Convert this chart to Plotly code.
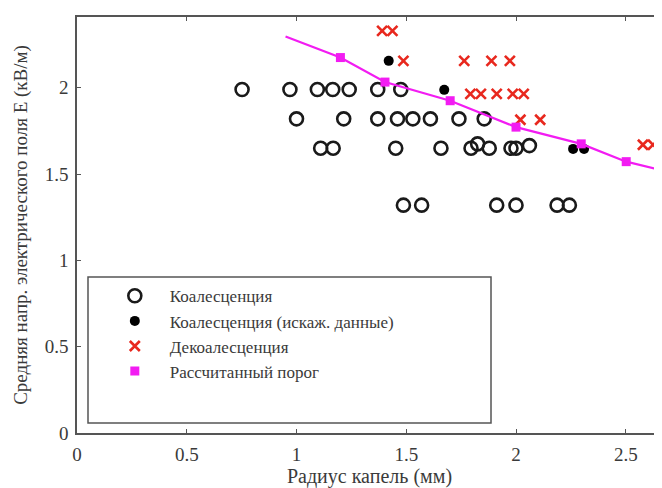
import plotly.graph_objects as go

# --- data ---
coal_x = [0.752, 0.97, 1.095, 1.165, 1.24, 1.37, 1.475,
          1.0, 1.215, 1.37, 1.46, 1.53, 1.61, 1.74, 1.855,
          1.11, 1.167, 1.452, 1.658, 1.795, 1.825, 1.878, 1.977, 2.0, 2.061,
          1.487, 1.57, 1.912, 2.0, 2.187, 2.243]
coal_y = [1.99, 1.99, 1.99, 1.99, 1.99, 1.99, 1.99,
          1.82, 1.82, 1.82, 1.82, 1.82, 1.82, 1.82, 1.82,
          1.65, 1.65, 1.65, 1.65, 1.65, 1.675, 1.65, 1.65, 1.65, 1.665,
          1.32, 1.32, 1.32, 1.32, 1.32, 1.32]

distorted_x = [1.42, 1.673, 2.26, 2.31]
distorted_y = [2.156, 1.988, 1.646, 1.646]

decoal_x = [1.39, 1.437,
            1.487, 1.764, 1.888, 1.972,
            1.792, 1.84, 1.912, 1.985, 2.035,
            2.02, 2.11,
            2.578, 2.624]
decoal_y = [2.33, 2.33,
            2.156, 2.156, 2.156, 2.156,
            1.965, 1.965, 1.965, 1.965, 1.965,
            1.815, 1.815,
            1.67, 1.67]

threshold_x = [1.2, 1.403, 1.7, 2.0, 2.297, 2.502]
threshold_y = [2.175, 2.033, 1.925, 1.772, 1.675, 1.572]

threshold_line_x = [0.95, 1.2, 1.403, 1.7, 2.0, 2.297, 2.502, 2.67]
threshold_line_y = [2.297, 2.175, 2.033, 1.925, 1.772, 1.675, 1.572, 1.52]

x_ticks = [0, 0.5, 1, 1.5, 2, 2.5]
x_tick_labels = ["0", "0.5", "1", "1.5", "2", "2.5"]
y_ticks = [0, 0.5, 1, 1.5, 2]
y_tick_labels = ["0", "0.5", "1", "1.5", "2"]

names = ["Коалесценция", "Коалесценция (искаж. данные)",
         "Декоалесценция", "Рассчитанный порог"]

FONT = "Liberation Serif, Times New Roman, DejaVu Serif, serif"
TXT = "#3a3a3a"
MAGENTA = "#f21cf2"

fig = go.Figure()
fig.add_trace(go.Scatter(
    x=coal_x, y=coal_y, mode="markers", name=names[0],
    marker=dict(symbol="circle-open", size=13, color="#1a1a1a",
                line=dict(width=2.6, color="#1a1a1a"))))
fig.add_trace(go.Scatter(
    x=distorted_x, y=distorted_y, mode="markers", name=names[1],
    marker=dict(symbol="circle", size=10, color="#000000")))
fig.add_trace(go.Scatter(
    x=decoal_x, y=decoal_y, mode="markers", name=names[2],
    marker=dict(symbol="x-thin-open", size=10, color="#e8281e",
                line=dict(width=2.6, color="#e8281e"))))
fig.add_trace(go.Scatter(
    x=threshold_line_x, y=threshold_line_y, mode="lines", showlegend=False,
    line=dict(color=MAGENTA, width=2.2), hoverinfo="skip"))
fig.add_trace(go.Scatter(
    x=threshold_x, y=threshold_y, mode="markers", name=names[3],
    marker=dict(symbol="square", size=9, color=MAGENTA)))

axis_common = dict(
    showgrid=False, zeroline=False, showline=True, linecolor="#555555",
    linewidth=1.5, ticks="inside", ticklen=4, tickcolor="#555555",
    mirror="ticks", automargin=False,
    tickfont=dict(family=FONT, size=19, color=TXT),
)

# the page body adds an 8px offset, so the figure is 8px smaller than the window
fig.update_layout(
    width=654, height=480,
    margin=dict(l=69, r=0, t=9, b=55),
    paper_bgcolor="white", plot_bgcolor="white",
    font=dict(family=FONT, size=18, color=TXT),
    xaxis=dict(range=[0, 2.665], tickvals=x_ticks, ticktext=x_tick_labels,
               ticklabelstandoff=3,
               title=dict(text="Радиус капель (мм)", standoff=3,
                          font=dict(family=FONT, size=20, color=TXT)),
               **axis_common),
    yaxis=dict(range=[0, 2.41], tickvals=y_ticks, ticktext=y_tick_labels,
               ticklabelstandoff=3,
               title=dict(text="Средняя напр. электрического поля E (кВ/м)",
                          standoff=12,
                          font=dict(family=FONT, size=19, color=TXT)),
               **axis_common),
    showlegend=True,
    legend=dict(x=0.039, y=0.372, xanchor="left", yanchor="top",
                bgcolor="rgba(0,0,0,0)", borderwidth=0, itemwidth=60,
                font=dict(family=FONT, size=17, color=TXT),
                tracegroupgap=0),
    shapes=[dict(type="rect", xref="paper", yref="paper",
                 x0=0.0188, x1=0.7077, y0=0.024, y1=0.375,
                 line=dict(color="#555555", width=1.5),
                 fillcolor="white", layer="below")],
)

fig.write_html("out.html")
